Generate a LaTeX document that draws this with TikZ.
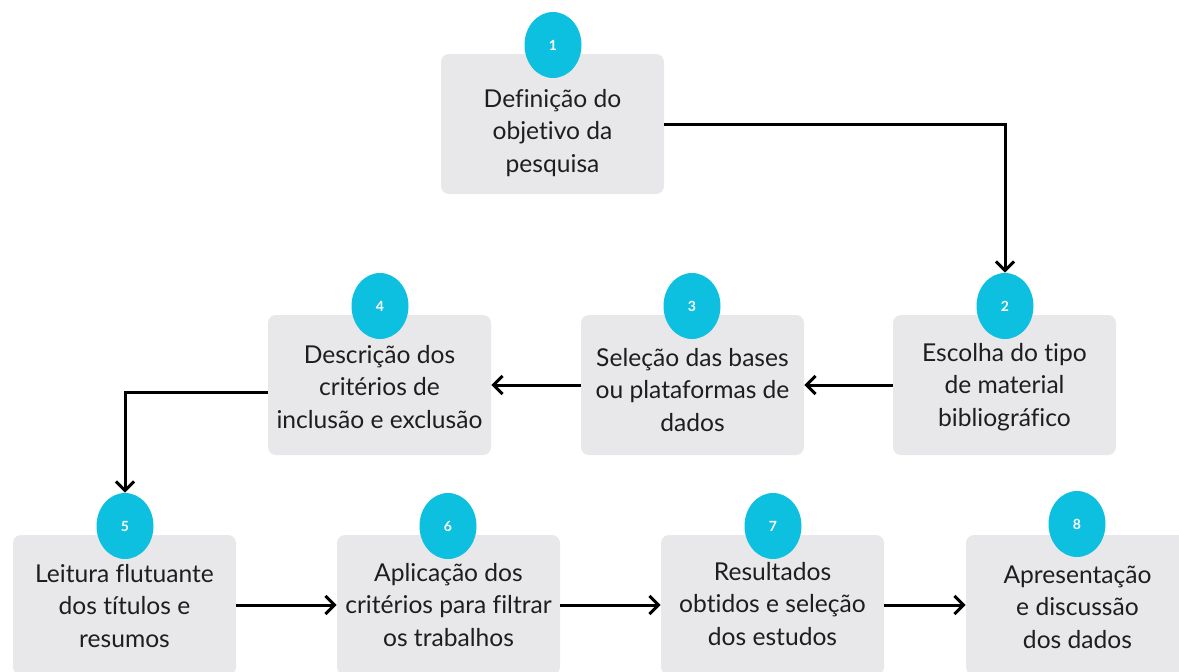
\documentclass[tikz,border=0pt]{standalone}
\usepackage{fontspec}
\setmainfont{Lato}[Ligatures=NoCommon]
\usetikzlibrary{shapes.geometric,arrows.meta}
\definecolor{boxgray}{RGB}{232,232,234}
\definecolor{numcyan}{RGB}{14,192,224}
\definecolor{inkgray}{RGB}{30,30,30}

\begin{document}
\begin{tikzpicture}[x=0.5pt,y=-0.5pt,
    box/.style={fill=boxgray,rounded corners=4pt,minimum width=111.5pt,minimum height=70pt,inner sep=0pt},
    boxtext/.style={align=center,text=inkgray,font=\fontsize{12.3}{16.25}\selectfont},
    num/.style={ellipse,fill=numcyan,minimum width=28.5pt,minimum height=33pt,inner sep=0pt,text=white,font=\bfseries\fontsize{7}{8}\selectfont},
    flow/.style={line width=1.5pt,-{Straight Barb[length=4.5pt,width=9pt]}}]
                \useasboundingbox (0,0) rectangle (1179,671);
                % The grey step boxes
                \node[box] (b1) at (552.5,124) {};
                \node[box] (b2) at (1004.5,385) {};
                \node[box] (b3) at (692.5,385) {};
                \node[box] (b4) at (379.5,385) {};
                \node[box] (b5) at (124.5,605) {};
                \node[box] (b6) at (448.5,605) {};
                \node[box] (b7) at (772.5,605) {};
                \node[box] (b8) at (1077.5,605) {};
                % The texts in the boxes
                \node[boxtext] (t1) at (552.5,133) {Definição do\\objetivo da\\pesquisa};
                \node[boxtext] (t2) at (1004.5,387) {Escolha do tipo\\de material\\bibliográfico};
                \node[boxtext] (t3) at (692.5,390) {Seleção das bases\\ou plataformas de\\dados};
                \node[boxtext] (t4) at (379.5,387) {Descrição dos\\critérios de\\inclusão e exclusão};
                \node[boxtext] (t5) at (124.5,606) {Leitura flutuante\\dos títulos e\\resumos};
                \node[boxtext] (t6) at (448.5,605) {Aplicação dos\\critérios para filtrar\\os trabalhos};
                \node[boxtext] (t7) at (772.5,604) {Resultados\\obtidos e seleção\\dos estudos};
                \node[boxtext] (t8) at (1077.5,607) {Apresentação\\e discussão\\dos dados};
                % The numbered circles on top of the boxes
                \node[num] (c1) at (553,45) {1};
                \node[num] (c2) at (1005,306) {2};
                \node[num] (c3) at (692,306) {3};
                \node[num] (c4) at (380,306) {4};
                \node[num] (c5) at (125,526) {5};
                \node[num] (c6) at (448,526) {6};
                \node[num] (c7) at (773,526) {7};
                \node[num] (c8) at (1077,524) {8};
                % The arrows between the steps
                \draw[flow] (b1.east) -| (c2.north);
                \draw[flow] (b2.west) -- (b3.east);
                \draw[flow] (b3.west) -- (b4.east);
                \draw[flow] ([yshift=-3.5pt]b4.west) -| (c5.north);
                \draw[flow] (b5.east) -- (b6.west);
                \draw[flow] (b6.east) -- (b7.west);
                \draw[flow] (b7.east) -- (b8.west);
            \end{tikzpicture}
\end{document}
